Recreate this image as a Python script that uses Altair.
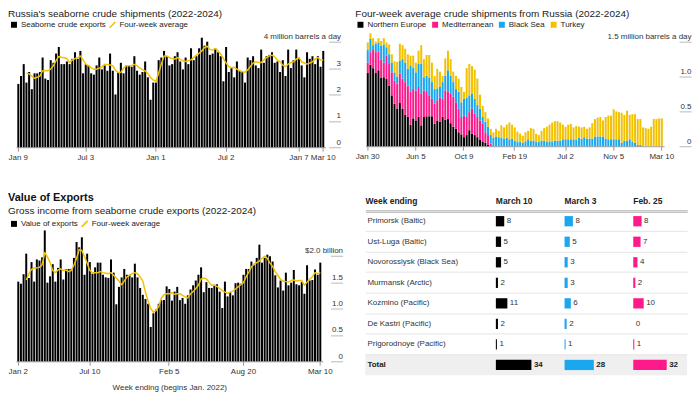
import altair as alt
import pandas as pd

FONT = "Liberation Sans"
INK = "#222222"
AXC = "#333333"
TICKC = "#b8b8b8"
BLACK = "#000000"
YEL = "#f2c100"
PINK = "#ff1a8c"
BLUE = "#1aa7ee"
BG = "#efefef"
AVG = "Four-week average"

# ---------------- data: seaborne crude shipments (million b/d) ----------------
ship_start = "2022-01-09"
ship_exports = [
    2.40, 2.70, 3.15, 2.45, 2.85, 2.20, 2.80, 2.80, 2.85, 3.40,
    2.60, 2.55, 3.30, 3.20, 3.55, 3.80, 3.15, 3.15, 3.25, 3.15,
    3.35, 3.60, 3.35, 3.65, 2.80, 3.15, 3.10, 2.80, 2.75, 3.10,
    3.40, 2.95, 3.10, 2.90, 3.55, 2.90, 2.00, 2.85, 3.20, 2.80,
    3.10, 3.10, 3.05, 3.45, 2.90, 2.75, 2.85, 3.25, 2.65, 1.80,
    2.45, 2.45, 3.30, 3.40, 3.65, 3.45, 3.10, 3.15, 3.45, 3.60,
    3.25, 2.95, 3.40, 3.15, 3.75, 3.30, 3.45, 3.75, 4.15, 3.85,
    4.00, 3.50, 3.55, 3.75, 3.60, 3.45, 2.50, 3.80, 2.85, 3.00,
    2.65, 3.25, 2.90, 2.85, 2.45, 3.40, 3.30, 3.45, 3.10, 3.00,
    3.70, 3.20, 3.45, 3.50, 3.60, 3.20, 3.25, 2.85, 3.30, 2.70,
    3.70, 3.00, 3.30, 3.70, 3.35, 3.10, 2.65, 3.60, 3.35, 3.45,
    3.15, 3.45, 3.05, 3.65]
ship_avg = [
    2.80, 2.78, 2.69, 2.61, 2.65, 2.70, 2.90, 2.91, 2.90, 2.96,
    3.09, 3.28, 3.44, 3.41, 3.39, 3.36, 3.21, 3.30, 3.36, 3.39,
    3.46, 3.31, 3.15, 3.09, 3.01, 2.96, 2.96, 3.00, 3.04, 3.14,
    3.14, 3.12, 3.09, 2.92, 2.83, 2.84, 3.00, 3.09, 3.09, 3.09,
    3.14, 3.09, 3.00, 2.94, 2.89, 2.80, 2.64, 2.55, 2.49, 2.81,
    3.15, 3.46, 3.46, 3.40, 3.36, 3.34, 3.40, 3.33, 3.28, 3.25,
    3.28, 3.31, 3.40, 3.49, 3.56, 3.65, 3.78, 3.83, 3.71, 3.68,
    3.74, 3.65, 3.53, 3.36, 3.19, 3.06, 3.01, 3.03, 2.96, 2.90,
    2.86, 2.84, 2.93, 3.06, 3.19, 3.24, 3.21, 3.21, 3.31, 3.40,
    3.46, 3.49, 3.43, 3.31, 3.24, 3.11, 3.06, 3.15, 3.21, 3.24,
    3.34, 3.40, 3.24, 3.19, 3.15, 3.19, 3.24, 3.34, 3.40, 3.31,
    3.31]
ship_ticks = ["2022-01-09", "2022-07-03", "2023-01-01", "2023-07-02", "2024-01-07", "2024-03-10"]

# ---------------- data: four-week average by destination (million b/d) ----------------
reg_start = "2022-01-30"
reg_names = ["Northern Europe", "Mediterranean", "Black Sea", "Turkey"]
reg_ne = [
    1.05, 1.17, 1.12, 1.05, 1.09, 0.98, 0.99, 0.97, 0.87, 0.73,
    0.61, 0.54, 0.62, 0.54, 0.45, 0.42, 0.31, 0.40, 0.37, 0.42,
    0.30, 0.42, 0.43, 0.43, 0.43, 0.32, 0.37, 0.35, 0.42, 0.38,
    0.39, 0.33, 0.28, 0.25, 0.20, 0.17, 0.13, 0.16, 0.23, 0.18,
    0.16, 0.13, 0.09, 0.07, 0.05, 0.02] + [0.0] * 65
reg_med = [
    0.15, 0.18, 0.26, 0.30, 0.27, 0.26, 0.21, 0.33, 0.31, 0.33,
    0.33, 0.36, 0.42, 0.43, 0.47, 0.45, 0.47, 0.42, 0.43, 0.43,
    0.45, 0.38, 0.36, 0.30, 0.25, 0.29, 0.29, 0.35, 0.26, 0.42,
    0.39, 0.43, 0.43, 0.38, 0.34, 0.25, 0.31, 0.26, 0.26, 0.36,
    0.31, 0.29, 0.28, 0.25, 0.15, 0.14, 0.04] + [0.0] * 64
reg_bs = [
    0.18, 0.19, 0.07, 0.12, 0.13, 0.20, 0.26, 0.12, 0.14, 0.14,
    0.12, 0.10, 0.19, 0.28, 0.28, 0.24, 0.38, 0.31, 0.26, 0.33,
    0.43, 0.19, 0.22, 0.25, 0.24, 0.21, 0.17, 0.15, 0.24, 0.21,
    0.31, 0.25, 0.21, 0.19, 0.24, 0.21, 0.24, 0.28, 0.24, 0.21,
    0.21, 0.17, 0.17, 0.10, 0.15, 0.12,
    0.12, 0.12, 0.14, 0.13, 0.12, 0.11, 0.12, 0.10, 0.11, 0.08,
    0.06, 0.06, 0.05, 0.07, 0.10, 0.08, 0.08, 0.06, 0.06, 0.08,
    0.08, 0.06, 0.07, 0.07, 0.08, 0.08, 0.08, 0.10, 0.10, 0.10,
    0.10, 0.10, 0.09, 0.12, 0.11, 0.13, 0.11, 0.11, 0.11, 0.14,
    0.14, 0.14, 0.14, 0.11, 0.10, 0.10, 0.10, 0.10, 0.10, 0.05,
    0.08, 0.08, 0.10, 0.06, 0.05, 0.02, 0.02, 0.0, 0.0, 0.0,
    0.0, 0.0, 0.0, 0.0, 0.0]
reg_tk = [
    0.11, 0.08, 0.10, 0.03, 0.06, 0.07, 0.09, 0.07, 0.14, 0.12,
    0.16, 0.21, 0.24, 0.20, 0.20, 0.21, 0.14, 0.17, 0.14, 0.19,
    0.27, 0.26, 0.30, 0.33, 0.28, 0.19, 0.28, 0.22, 0.09, 0.25,
    0.28, 0.24, 0.15, 0.19, 0.19, 0.22, 0.10, 0.42, 0.45, 0.40,
    0.42, 0.38, 0.20, 0.16, 0.14, 0.12,
    0.09, 0.08, 0.11, 0.09, 0.18, 0.16, 0.19, 0.24, 0.20, 0.19,
    0.15, 0.12, 0.10, 0.13, 0.12, 0.18, 0.17, 0.12, 0.10, 0.14,
    0.18, 0.22, 0.24, 0.27, 0.28, 0.28, 0.26, 0.21, 0.18, 0.21,
    0.22, 0.17, 0.20, 0.16, 0.16, 0.15, 0.14, 0.16, 0.22, 0.25,
    0.27, 0.28, 0.23, 0.31, 0.34, 0.34, 0.43, 0.40, 0.39, 0.43,
    0.37, 0.43, 0.35, 0.40, 0.41, 0.37, 0.37, 0.27, 0.26, 0.25,
    0.28, 0.39, 0.39, 0.40, 0.40]
reg_ticks = ["2022-01-30", "2022-06-05", "2022-10-09", "2023-02-19", "2023-07-02", "2023-11-05", "2024-03-10"]

# ---------------- data: value of exports ($ billion) ----------------
val_start = "2022-01-02"
val_exports = [
    1.51, 1.47, 1.65, 2.04, 1.58, 1.88, 1.51, 1.93, 1.91, 1.97,
    2.48, 1.49, 1.61, 1.84, 1.51, 1.77, 1.93, 1.55, 1.75, 1.75,
    1.75, 1.96, 2.26, 2.16, 2.35, 1.64, 2.04, 1.88, 1.66, 1.78,
    1.87, 1.87, 1.64, 1.59, 1.58, 1.93, 1.68, 1.08, 1.41, 1.59,
    1.75, 1.64, 1.64, 1.59, 1.85, 1.59, 1.39, 1.26, 1.18, 1.09,
    0.65, 0.91, 0.98, 1.09, 1.16, 1.16, 1.42, 1.37, 1.15, 1.32,
    1.41, 1.16, 1.20, 1.09, 1.25, 1.36, 1.44, 1.53, 1.64, 1.78,
    1.31, 1.50, 1.39, 1.39, 1.45, 1.46, 1.32, 1.01, 1.51, 1.23,
    1.31, 1.25, 1.48, 1.49, 1.47, 1.64, 1.75, 1.75, 1.89, 1.82,
    1.96, 2.21, 1.87, 1.96, 2.02, 1.99, 1.89, 1.63, 1.40, 1.53,
    1.34, 1.68, 1.44, 1.49, 1.73, 1.46, 1.44, 1.50, 1.28, 1.82,
    1.53, 1.54, 1.74, 1.64, 1.87]
val_avg = [
    1.54, 1.66, 1.74, 1.77, 1.77, 1.78, 1.83, 2.06, 1.98, 1.87,
    1.72, 1.68, 1.73, 1.75, 1.72, 1.73, 1.70, 1.72, 1.82, 1.95,
    2.12, 2.10, 1.98, 1.86, 1.72, 1.68, 1.68, 1.68, 1.70, 1.68,
    1.67, 1.66, 1.68, 1.63, 1.58, 1.52, 1.45, 1.52, 1.60, 1.63,
    1.66, 1.68, 1.66, 1.60, 1.52, 1.31, 1.14, 1.00, 0.93, 0.96,
    1.04, 1.20, 1.26, 1.28, 1.28, 1.30, 1.27, 1.28, 1.28, 1.25,
    1.22, 1.20, 1.28, 1.32, 1.38, 1.44, 1.56, 1.58, 1.56, 1.50,
    1.44, 1.44, 1.42, 1.38, 1.34, 1.31, 1.29, 1.31, 1.33, 1.37,
    1.41, 1.45, 1.49, 1.60, 1.69, 1.79, 1.84, 1.87, 1.90, 1.95,
    1.99, 1.95, 1.86, 1.80, 1.70, 1.63, 1.55, 1.52, 1.51, 1.50,
    1.53, 1.54, 1.52, 1.53, 1.53, 1.44, 1.50, 1.56, 1.60, 1.68,
    1.66, 1.68]
val_ticks = ["2022-01-02", "2022-07-10", "2023-02-05", "2023-08-20", "2024-03-10"]

# ---------------- data: tanker departures table ----------------
ports = ["Primorsk (Baltic)", "Ust-Luga (Baltic)", "Novorossiysk (Black Sea)", "Murmansk (Arctic)",
         "Kozmino (Pacific)", "De Kastri (Pacific)", "Prigorodnoye (Pacific)", "Total"]
col_headers = ["March 10", "March 3", "Feb. 25"]
wk_mar10 = [8, 5, 5, 2, 11, 2, 1, 34]
wk_mar3 = [8, 5, 3, 3, 6, 2, 1, 28]
wk_feb25 = [8, 7, 4, 2, 10, 0, 1, 32]


def weeks(start, n):
    return pd.date_range(start, periods=n, freq="7D").strftime("%Y-%m-%d").tolist()


def x_axis(ticks, title=None):
    kw = dict(values=ticks, labelExpr="utcFormat(toDate(datum.value), '%b %-d')", labelAngle=0,
              labelFontSize=8, labelColor=AXC, labelPadding=2, tickSize=4, tickColor="#9a9a9a",
              domainColor="#9a9a9a", domainWidth=1, grid=False, title=title)
    if title:
        kw.update(titleFontSize=8, titleFontWeight="normal", titleColor=AXC, titlePadding=8)
    return alt.Axis(**kw)


def y_axis(vals, expr):
    return alt.Axis(orient="right", values=vals, labelExpr=expr, grid=False, domain=False,
                    ticks=True, tickSize=12, tickColor=TICKC, labelAlign="right",
                    labelBaseline="alphabetic", labelPadding=0, labelOffset=-3,
                    labelFontSize=8, labelColor=AXC, labelFlush=False, labelOverlap=False,
                    title=None)


LEG = dict(title=None, orient="none", direction="horizontal", symbolSize=36, labelFontSize=8,
           labelColor=INK, labelOffset=3, padding=0)


def bar_line(start, bars, avg, bar_name, ticks, width, height, ydom, yvals, yexpr,
             xrange, leg_y, leg2_x, title, xtitle=None):
    n = len(bars)
    wk = weeks(start, n)
    bdf = pd.DataFrame({"week": wk, "v": bars, "s": bar_name})
    ldf = pd.DataFrame({"week": wk[n - len(avg):], "v": avg, "s": AVG})
    xenc = alt.X("week:O", title=None,
                 scale=alt.Scale(domain=wk, paddingInner=0.25, paddingOuter=0.5, range=xrange),
                 axis=x_axis(ticks, xtitle))
    yenc = alt.Y("v:Q", title=None, scale=alt.Scale(domain=ydom, nice=False), axis=y_axis(yvals, yexpr))
    b = alt.Chart(bdf).mark_bar().encode(
        x=xenc, y=yenc,
        color=alt.Color("s:N", scale=alt.Scale(domain=[bar_name], range=[BLACK]),
                        legend=alt.Legend(legendX=-6, legendY=leg_y, symbolType="square",
                                          columnPadding=6, **LEG)))
    l = alt.Chart(ldf).mark_line(strokeWidth=1.5, strokeJoin="round").encode(
        x=xenc, y=yenc,
        stroke=alt.Stroke("s:N", scale=alt.Scale(domain=[AVG], range=[YEL]),
                          legend=alt.Legend(legendX=leg2_x, legendY=leg_y, symbolType="M-1,1L1,-1",
                                            symbolStrokeWidth=1.6, columnPadding=6, **LEG)))
    return alt.layer(b, l).properties(width=width, height=height, title=title)


top_title = dict(anchor="start", fontSize=10, fontWeight="normal", color=INK, offset=2)

tl = bar_line(ship_start, ship_exports, ship_avg, "Seaborne crude exports", ship_ticks,
              314, 106, [0, 4], [0, 1, 2, 3, 4],
              "datum.value == 4 ? '4 million barrels a day' : datum.label",
              [0, 311], -21, 93,
              alt.TitleParams("Russia's seaborne crude shipments (2022-2024)", **top_title))

# ---- stacked destinations ----
n_reg = len(reg_ne)
rwk = weeks(reg_start, n_reg)
rdf = pd.DataFrame({
    "week": rwk * 4,
    "region": sum([[r] * n_reg for r in reg_names], []),
    "v": reg_ne + reg_med + reg_bs + reg_tk,
    "ord": sum([[i] * n_reg for i in range(4)], []),
})
tr = alt.Chart(rdf).mark_bar().encode(
    x=alt.X("week:O", title=None,
            scale=alt.Scale(domain=rwk, paddingInner=0.25, paddingOuter=0.5, range=[0, 300]),
            axis=x_axis(reg_ticks)),
    y=alt.Y("v:Q", title=None, stack="zero", scale=alt.Scale(domain=[0, 1.5], nice=False),
            axis=y_axis([0, 0.5, 1.0, 1.5],
                        "datum.value == 1.5 ? '1.5 million barrels a day' : (datum.value == 0 ? '0' : format(datum.value, '.1f'))")),
    color=alt.Color("region:N", scale=alt.Scale(domain=reg_names, range=[BLACK, PINK, BLUE, YEL]),
                    legend=alt.Legend(legendX=-9, legendY=-21, symbolType="square",
                                      columnPadding=4, **LEG)),
    order=alt.Order("ord:Q", sort="ascending"),
).properties(width=315, height=105,
             title=alt.TitleParams("Four-week average crude shipments from Russia (2022-2024)", **top_title))

bl = bar_line(val_start, val_exports, val_avg, "Value of exports", val_ticks,
              316, 106, [0, 2], [0, 0.5, 1.0, 1.5, 2.0],
              "datum.value == 2 ? '$2.0 billion' : (datum.value == 0 ? '0' : format(datum.value, '.1f'))",
              [0, 308], -36, 65,
              alt.TitleParams("Value of Exports", subtitle="Gross income from seaborne crude exports (2022-2024)",
                              anchor="start", fontSize=11, fontWeight="bold", color="#111111",
                              subtitleFontSize=10, subtitleColor=INK, subtitlePadding=3, offset=4),
              xtitle="Week ending (begins Jan. 2022)")

# ---- table ----
tdf = pd.DataFrame({"port": ports, "c1": wk_mar10, "c2": wk_mar3, "c3": wk_feb25})
TH = 165
PX = 1.05
yt = alt.Y("port:N", title=None, scale=alt.Scale(domain=ports, paddingInner=0, paddingOuter=0),
           axis=alt.Axis(labels=False, ticks=False, domain=False, grid=True, gridColor="#e4e4e4",
                         bandPosition=0, title=None))
hdr = alt.Axis(orient="top", labels=False, ticks=False, grid=False, domainColor="#8a8a8a",
               domainWidth=2, title=None)
is_tot = "datum.port == 'Total'"
not_tot = "datum.port != 'Total'"


def hdr_title(t):
    return alt.TitleParams(t, anchor="start", fontSize=8.5, fontWeight="bold", color=INK, offset=5)


lab_x = alt.XDatum(0, type="quantitative", scale=alt.Scale(domain=[0, 1]), axis=hdr)
lab_bg = alt.Chart(tdf).transform_filter(is_tot).mark_rect(color=BG).encode(
    x=lab_x, x2=alt.X2Datum(1), y=yt)
lab_t = alt.Chart(tdf).transform_filter(not_tot).mark_text(
    align="left", baseline="middle", dx=2, fontSize=8, color=AXC).encode(x=lab_x, y=yt, text="port:N")
lab_tb = alt.Chart(tdf).transform_filter(is_tot).mark_text(
    align="left", baseline="middle", dx=2, fontSize=8, fontWeight="bold", color=INK).encode(
    x=lab_x, y=yt, text="port:N")
lab_col = alt.layer(lab_bg, lab_t, lab_tb).properties(width=131, height=TH, title=hdr_title("Week ending"))


def val_col(field, color, header, width):
    dmax = width / PX
    x = alt.X(field + ":Q", title=None, scale=alt.Scale(domain=[0, dmax], nice=False), axis=hdr)
    bg = alt.Chart(tdf).transform_filter(is_tot).mark_rect(color=BG).encode(
        x=alt.XDatum(0, type="quantitative"), x2=alt.X2Datum(dmax), y=yt)
    bars = alt.Chart(tdf).mark_bar(color=color, height=alt.RelativeBandSize(0.5)).encode(x=x, y=yt)
    t = alt.Chart(tdf).transform_filter(not_tot).mark_text(
        align="left", baseline="middle", dx=2.5, fontSize=8, color=AXC).encode(
        x=x, y=yt, text=alt.Text(field + ":Q"))
    tb = alt.Chart(tdf).transform_filter(is_tot).mark_text(
        align="left", baseline="middle", dx=2.5, fontSize=8, fontWeight="bold", color=INK).encode(
        x=x, y=yt, text=alt.Text(field + ":Q"))
    return alt.layer(bg, bars, t, tb).properties(width=width, height=TH, title=hdr_title(header))


IND = dict(color="independent", stroke="independent")

table = alt.hconcat(
    lab_col,
    val_col("c1", BLACK, col_headers[0], 69),
    val_col("c2", BLUE, col_headers[1], 69),
    val_col("c3", PINK, col_headers[2], 54),
    spacing=0,
).resolve_scale(x="independent", y="independent")

left = alt.vconcat(tl, bl, spacing=31).resolve_scale(**IND).resolve_legend(**IND)
right = alt.vconcat(tr, table, spacing=37).resolve_scale(**IND).resolve_legend(**IND)

chart = alt.hconcat(left, right, spacing=11).resolve_scale(**IND).resolve_legend(**IND).properties(
    padding={"left": 0, "top": 0, "right": 0, "bottom": 0}
).configure(font=FONT).configure_view(strokeWidth=0)

chart.save("out.html", embed_options={"renderer": "svg", "actions": False})
